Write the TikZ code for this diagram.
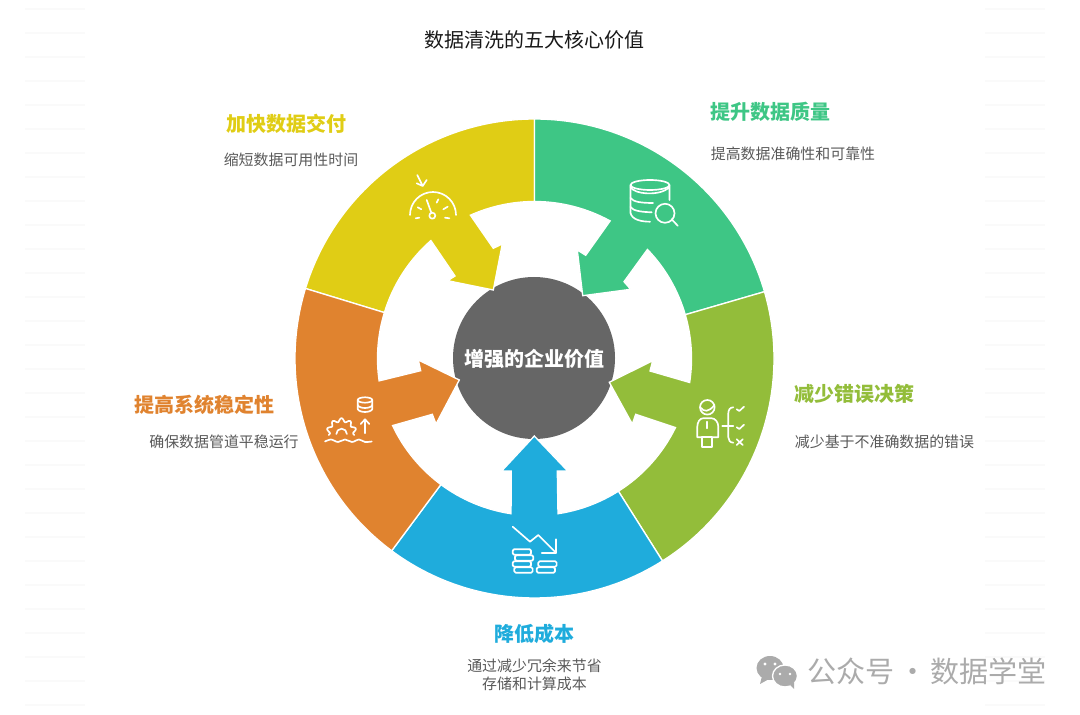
\documentclass[tikz,border=0pt]{standalone}
\usepackage{fontspec}
\usepackage{tikz}
\usetikzlibrary{calc}
\newfontfamily\cjk{Noto Sans CJK SC}
\definecolor{cyellow}{HTML}{E0CD15}
\definecolor{cgreen}{HTML}{3EC685}
\definecolor{colive}{HTML}{93BD3A}
\definecolor{cblue}{HTML}{1FACDC}
\definecolor{corange}{HTML}{E0832F}
\definecolor{chub}{HTML}{666666}
\definecolor{cdesc}{HTML}{595959}
\definecolor{cmark}{HTML}{ABABAB}
\definecolor{cfaint}{HTML}{FAFAFA}
\tikzset{
  segline/.style={draw=white,line width=1pt,line join=miter},
  iconline/.style={draw=white,line width=1.25pt,line cap=round,line join=round},
  headtxt/.style={font=\cjk\bfseries\fontsize{15}{15}\selectfont},
  desctxt/.style={font=\cjk\fontsize{11.2}{11}\selectfont,text=cdesc},
}
% colour, ring angles from/to, inner arc stops, arrow points
\newcommand{\ringseg}[6]{\filldraw[segline,fill=#1] ($(hub)+(#2:239.5)$) arc[start angle=#2,end angle=#3,radius=239.5] -- ($(hub)+(#3:157)$) arc[start angle=#3,end angle=#4,radius=157] -- #6 -- ($(hub)+(#5:157)$) arc[start angle=#5,end angle=#2,radius=157] -- cycle;}

\begin{document}
\begin{tikzpicture}[x=0.75pt,y=0.75pt]
\useasboundingbox (0,0) rectangle (1080,714);
\foreach \yy in {9,33,...,705} {
  \draw[cfaint,line width=1.4pt] (25,\yy) -- (85,\yy);
  \draw[cfaint,line width=1.4pt] (985,\yy) -- (1045,\yy);
}
\coordinate (hub) at (534.5,355.5);
\node[font=\cjk\fontsize{15}{15}\selectfont,text=black!90] (title) at (534.5,674) {数据清洗的五大核心价值};
% hub first, the arrow tips bite into it
\fill[chub] (534,356) circle (81);
\ringseg{cyellow}{90}{163}{131.3}{114.1}{(455,438) -- (447.7,433.3) -- (493.3,424) -- (502.3,470) -- (493.3,465.7)}
\ringseg{cgreen}{90}{16.2}{44}{61.2}{(624,432.3) -- (630.7,424.7) -- (582.7,418.3) -- (577.3,464) -- (585.7,458.7)}
\ringseg{colive}{16.2}{-57.7}{-26.1}{-8.8}{(635.7,299.7) -- (632.3,290) -- (609.3,331.7) -- (652.7,353.3) -- (650,343)}
\ringseg{cblue}{-57.7}{-126.6}{-98.6}{-81.4}{(511.3,243) -- (501.7,243) -- (534.3,278) -- (567.7,243) -- (557.3,243)}
\ringseg{corange}{-126.6}{-197}{-171.8}{-154.7}{(420.7,343.3) -- (418.3,354) -- (459.3,334) -- (436,290) -- (432.3,299.7)}
\node[headtxt,text=white] (hubtxt) at (534.5,355) {增强的企业价值};
% gauge
\draw[iconline] (410,499) arc[start angle=180,end angle=0,radius=23];
\draw[iconline] (432.3,498.3) circle (3);
\draw[iconline] (431.3,501.3) -- (426.7,514);
\draw[iconline] (415.7,495.7) -- (419.3,496.3) (417.7,506.7) -- (421.3,504.7) (436.7,511.3) -- (438.3,514.7) (443.3,504.7) -- (447.7,507.3) (445,496.3) -- (449.3,495.7);
\draw[iconline] (417.3,539) -- (422.7,528) (416.7,530.7) -- (422.7,528) -- (426.7,534);
% database and lens
\draw[iconline] (650,529) ellipse (19.5 and 5);
\draw[iconline] (630.5,529) -- (630.5,501) .. controls (632,494) and (642,492.3) .. (650,492.3);
\draw[iconline] (630.5,527) .. controls (633,520) and (660,517) .. (669.5,527) (669.5,529) -- (669.5,514);
\draw[iconline] (630.5,516) .. controls (633,512) and (642,511) .. (653,511);
\draw[iconline] (630.5,507) .. controls (633,503) and (642,502) .. (651.7,501.7);
\draw[iconline] (665,500.7) circle (9.5);
\draw[iconline] (671.7,494.7) -- (677.7,488.3);
% trend and coins
\draw[iconline] (512.7,187.3) -- (530,172.3) -- (538.3,179) -- (556,161.3);
\draw[iconline] (556,174.7) -- (556,160.7) -- (541.7,160.7);
\foreach \cx/\cy in {512.7/164.7,515/158.7,512.7/152.7,514.3/146.7,538.3/152.7,536.7/146.7} {
  \draw[iconline,rounded corners=1pt] (\cx,\cy) rectangle ++(18.3,-5.4);
}
% person and choices
\draw[iconline] (707.3,306.7) circle (7.3);
\draw[iconline] (700.3,306.7) .. controls (704,301.5) and (709,302) .. (714.5,309);
\draw[iconline] (702.3,276.7) -- (712.3,276.7) -- (712.3,266.7) -- (702.3,266.7) -- cycle;
\draw[iconline] (702.3,276.7) -- (697.3,276.7) -- (697.3,287.3) .. controls (697.3,292) and (700,295.7) .. (703,295.7) -- (711.7,295.7) .. controls (715,295.7) and (718.3,292) .. (718.3,287.3) -- (718.3,276.7) -- (712.3,276.7);
\draw[iconline] (707.3,292.3) -- (707.3,285.7);
\draw[iconline] (722.3,288) -- (733.3,288);
\draw[iconline] (733.3,306.7) .. controls (730,306.7) and (728.3,304) .. (728.3,300.7) -- (728.3,276.7) .. controls (728.3,274) and (730,271.3) .. (733.3,271.3);
\draw[iconline] (736.7,304.7) -- (739.3,303) -- (744,307.3);
\draw[iconline] (736.7,286.7) -- (739.3,285) -- (744,289.3);
\draw[iconline] (736.7,274.7) -- (742.7,269) (742.7,274.7) -- (736.7,269);
% gear, lift, database
\draw[iconline] plot[smooth,domain=-8:188,samples=50] ({341.5+(13.3+1.8*cos(10*(\x-90)))*cos(\x)},{280.7+(13.3+1.8*cos(10*(\x-90)))*sin(\x)});
\draw[iconline] (336.3,280) arc[start angle=180,end angle=0,radius=5.3];
\draw[iconline] plot[smooth] coordinates {(325,272.5) (331,274.5) (338,272) (345,274.5) (352,272) (359,274.5) (365,272) (371.7,272.5)};
\draw[iconline] (365,280.7) -- (365,294.7) (360.7,290) -- (365,294.7) -- (369.3,290);
\draw[iconline] (365,314) ellipse (7.3 and 2.7);
\draw[iconline] (357.7,314) -- (357.7,305) .. controls (359,301) and (371,301) .. (372.3,305) -- (372.3,314);
\draw[iconline] (357.7,309) .. controls (359,305) and (371,305) .. (372.3,309);
% labels
\node[headtxt,text=cyellow] (fasthead) at (286.5,590) {加快数据交付};
\node[desctxt] (fastdesc) at (291,554) {缩短数据可用性时间};
\node[headtxt,text=cgreen] (qualhead) at (770.5,602) {提升数据质量};
\node[desctxt] (qualdesc) at (793,560) {提高数据准确性和可靠性};
\node[headtxt,text=colive] (wronghead) at (854.5,320) {减少错误决策};
\node[desctxt] (wrongdesc) at (884.5,272) {减少基于不准确数据的错误};
\node[headtxt,text=corange] (stabhead) at (204.5,309) {提高系统稳定性};
\node[desctxt] (stabdesc) at (224,272) {确保数据管道平稳运行};
\node[headtxt,text=cblue] (costhead) at (534.5,80) {降低成本};
\node[desctxt] (costdesc) at (534.5,48) {通过减少冗余来节省};
\node[desctxt] (costdesc2) at (534.5,30) {存储和计算成本};
% watermark
\fill[cmark] (770,46) ellipse (13.5 and 12) (762,38) -- (760,30) -- (769,35) -- cycle;
\filldraw[cmark,draw=white,line width=1pt] (785,38) ellipse (12.5 and 11);
\fill[cmark] (790,29) -- (794,25) -- (794,32) -- cycle;
\fill[white] (765,50) circle (1.6) (775,50) circle (1.6) (780,40) circle (1.4) (790,40) circle (1.4);
\node[font=\cjk\fontsize{21.8}{22}\selectfont,text=cmark,anchor=east] (mark) at (1051.5,43) {公众号\hspace{2.5pt}·\hspace{2.5pt}数据学堂};
\end{tikzpicture}
\end{document}
